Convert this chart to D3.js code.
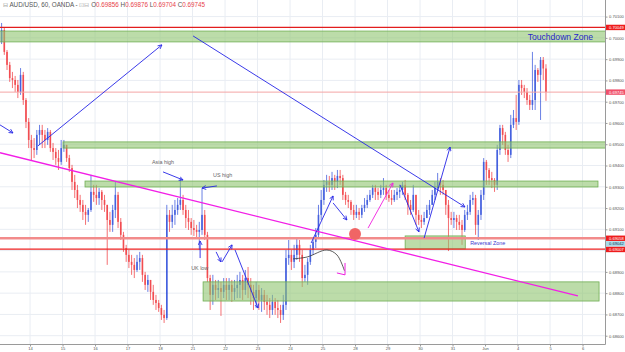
<!DOCTYPE html>
<html>
<head>
<meta charset="utf-8">
<script src="https://cdn.jsdelivr.net/npm/d3@7.9.0/dist/d3.min.js"></script>
<style>
  body { margin: 0; background: #fff; }
  svg { display: block; font-family: "Liberation Sans", Arial, sans-serif; }
</style>
</head>
<body>
<svg id="chart" width="625" height="352"></svg>
<script>
// AUD/USD 2h-ish candles (bar 0 = late May 11)
const firstOpen = 0.69981;
const closes = [
  0.70037,0.69934,0.69873,0.69811,0.69802,0.69779,0.69746,0.69826,0.69708,0.69605,0.69520,
  0.69482,0.69473,0.69544,0.69567,0.69544,0.69520,0.69558,0.69482,0.69464,0.69435,0.69417,0.69482,
  0.69497,0.69435,0.69388,0.69323,0.69285,0.69238,0.69215,0.69182,0.69168,0.69191,0.69276,0.69262,
  0.69247,0.69276,0.69238,0.69215,0.69144,0.69121,0.69191,0.69262,0.69135,0.69074,0.69012,0.68980,
  0.68947,0.68933,0.68909,0.68947,0.68965,0.68886,0.68839,0.68862,0.68806,0.68768,0.68754,0.68730,
  0.68698,0.68683,0.69168,0.69135,0.69168,0.69191,0.69215,0.69238,0.69191,0.69153,0.69135,0.69106,
  0.69097,0.69088,0.69097,0.69168,0.69074,0.68871,0.68792,0.68839,0.68815,0.68824,0.68806,0.68839,
  0.68815,0.68839,0.68806,0.68824,0.68839,0.68862,0.68815,0.68871,0.68839,0.68806,0.68777,0.68815,
  0.68768,0.68792,0.68759,0.68745,0.68721,0.68759,0.68730,0.68721,0.68698,0.68745,0.68965,0.68980,
  0.68947,0.68980,0.69027,0.68980,0.68871,0.68886,0.68947,0.69003,0.69041,0.69074,0.69168,0.69238,
  0.69309,0.69323,0.69309,0.69341,0.69323,0.69351,0.69341,0.69262,0.69238,0.69229,0.69191,0.69168,
  0.69182,0.69168,0.69200,0.69215,0.69238,0.69262,0.69294,0.69276,0.69262,0.69285,0.69294,0.69262,
  0.69247,0.69238,0.69262,0.69276,0.69285,0.69309,0.69262,0.69215,0.69191,0.69262,0.69168,0.69144,
  0.69135,0.69153,0.69191,0.69215,0.69262,0.69294,0.69323,0.69309,0.69285,0.69215,0.69153,0.69144,
  0.69153,0.69135,0.69121,0.69097,0.69168,0.69182,0.69238,0.69247,0.69121,0.69168,0.69262,0.69417,
  0.69379,0.69341,0.69332,0.69309,0.69473,0.69576,0.69544,0.69473,0.69450,0.69591,0.69623,0.69605,
  0.69779,0.69764,0.69746,0.69708,0.69685,0.69708,0.69849,0.69826,0.69896,0.69856,0.69745
];
const highs = [
  0.70070,0.70051,0.69943,0.69887,0.69840,0.69821,0.69802,0.69858,0.69840,0.69717,0.69623,
  0.69544,0.69529,0.69567,0.69591,0.69591,0.69567,0.69576,0.69567,0.69506,0.69482,0.69473,0.69520,
  0.69520,0.69497,0.69450,0.69403,0.69356,0.69309,0.69262,0.69238,0.69215,0.69200,0.69356,0.69309,
  0.69309,0.69294,0.69285,0.69262,0.69215,0.69182,0.69215,0.69323,0.69276,0.69153,0.69088,0.69027,
  0.69003,0.68980,0.68965,0.68980,0.68994,0.68980,0.68900,0.68886,0.68862,0.68839,0.68792,0.68768,
  0.68745,0.68721,0.69215,0.69191,0.69215,0.69238,0.69247,0.69341,0.69262,0.69215,0.69191,0.69153,
  0.69144,0.69121,0.69135,0.69294,0.69191,0.69088,0.68886,0.68886,0.68862,0.68862,0.68853,0.68871,
  0.68871,0.68871,0.68862,0.68862,0.68886,0.68900,0.68886,0.68909,0.68923,0.68871,0.68839,0.68853,
  0.68839,0.68824,0.68815,0.68792,0.68777,0.68792,0.68777,0.68768,0.68745,0.68792,0.69003,0.69050,
  0.69003,0.69027,0.69059,0.69050,0.69003,0.68933,0.68965,0.69027,0.69059,0.69106,0.69215,0.69285,
  0.69332,0.69356,0.69351,0.69370,0.69356,0.69379,0.69379,0.69356,0.69276,0.69262,0.69238,0.69215,
  0.69215,0.69200,0.69215,0.69247,0.69262,0.69285,0.69309,0.69309,0.69294,0.69309,0.69341,0.69309,
  0.69285,0.69285,0.69285,0.69294,0.69309,0.69323,0.69332,0.69271,0.69238,0.69309,0.69262,0.69191,
  0.69168,0.69182,0.69215,0.69238,0.69285,0.69323,0.69365,0.69341,0.69332,0.69285,0.69238,0.69182,
  0.69182,0.69168,0.69168,0.69144,0.69191,0.69215,0.69262,0.69276,0.69262,0.69191,0.69285,0.69435,
  0.69426,0.69388,0.69370,0.69341,0.69497,0.69591,0.69591,0.69558,0.69497,0.69638,0.69661,0.69732,
  0.69802,0.69802,0.69779,0.69764,0.69732,0.69934,0.69873,0.69858,0.69910,0.69910,0.69876
];
const lows = [
  0.69971,0.69920,0.69849,0.69793,0.69764,0.69746,0.69717,0.69732,0.69685,0.69576,0.69482,
  0.69426,0.69435,0.69450,0.69497,0.69482,0.69482,0.69497,0.69464,0.69426,0.69403,0.69379,0.69403,
  0.69464,0.69417,0.69370,0.69285,0.69247,0.69200,0.69182,0.69144,0.69121,0.69135,0.69182,0.69229,
  0.69215,0.69215,0.69191,0.69182,0.68933,0.69088,0.69088,0.69153,0.69106,0.69050,0.68994,0.68947,
  0.68918,0.68886,0.68871,0.68900,0.68909,0.68853,0.68815,0.68806,0.68768,0.68745,0.68721,0.68712,
  0.68674,0.68660,0.68674,0.69088,0.69106,0.69121,0.69168,0.69191,0.69168,0.69106,0.69097,0.69074,
  0.69069,0.69059,0.69003,0.69074,0.69050,0.68853,0.68721,0.68745,0.68768,0.68777,0.68693,0.68777,
  0.68768,0.68768,0.68759,0.68768,0.68777,0.68777,0.68768,0.68792,0.68777,0.68745,0.68721,0.68730,
  0.68721,0.68712,0.68721,0.68698,0.68683,0.68698,0.68698,0.68683,0.68660,0.68674,0.68721,0.68933,
  0.68909,0.68918,0.68956,0.68947,0.68829,0.68853,0.68839,0.68933,0.68980,0.69012,0.69059,0.69144,
  0.69215,0.69276,0.69276,0.69285,0.69285,0.69294,0.69309,0.69238,0.69215,0.69200,0.69168,0.69144,
  0.69153,0.69144,0.69153,0.69182,0.69200,0.69229,0.69247,0.69238,0.69238,0.69247,0.69262,0.69238,
  0.69229,0.69215,0.69229,0.69238,0.69247,0.69262,0.69238,0.69168,0.69168,0.69182,0.69121,0.69121,
  0.69106,0.69121,0.69153,0.69168,0.69215,0.69238,0.69285,0.69262,0.69262,0.69168,0.68998,0.69121,
  0.69106,0.69097,0.69097,0.69027,0.69088,0.69144,0.69168,0.69215,0.69074,0.69050,0.69144,0.69238,
  0.69309,0.69309,0.69294,0.69276,0.69285,0.69450,0.69497,0.69450,0.69417,0.69435,0.69576,0.69567,
  0.69591,0.69732,0.69717,0.69685,0.69661,0.69661,0.69661,0.69793,0.69614,0.69802,0.69704
];

const dayLabels = ["14","15","16","17","18","21","22","23","24","25","28","29","30","31","Jun","4","5","6"];
const priceTicks = [0.686,0.687,0.688,0.689,0.690,0.691,0.692,0.693,0.694,0.695,0.696,0.697,0.698,0.699,0.700,0.701];

// horizontal levels drawn on the chart
const levelPrices = [0.70049, 0.69745, 0.69058, 0.69007];
const levelColors = ["#e21d1d", "#f4a6a6", "#f28b8b", "#ee2222"];
const levelWidths = [1.2, 1, 2.6, 1.3];

// price tags on the right scale
const tagPrices = [0.70049, 0.69745, 0.69058, 0.69042, 0.69007];
const tagColors = ["#ee1c1c", "#f0506a", "#ee1c1c", "#a9dbe8", "#ee1c1c"];
const tagText = ["#fff", "#fff", "#fff", "#235", "#fff"];

// rectangles: [fromBar, toBar, topPrice, bottomPrice]
const zoneTouchdown = [-1, 223, 0.70032, 0.69981];
const zoneUpper = [22.7, 223, 0.69511, 0.69482];
const zoneMiddle = [30.8, 220.2, 0.69327, 0.69299];
const zoneReversal = [149, 171.2, 0.69069, 0.69008];
const zoneLower = [74.4, 220.6, 0.68853, 0.68763];

// drawn lines: lists of [bar, price]
const trendMagenta = [[-0.6, 0.69460], [212.8, 0.68787]];
const blueArrows = [
  [[-0.6, 0.69591], [4.2, 0.69553]],
  [[13.4, 0.69492], [59.2, 0.69967]],
  [[70.7, 0.70009], [171.1, 0.69205]],
  [[59.6, 0.69370], [67.0, 0.69332]],
  [[79.5, 0.69304], [74.0, 0.69294]],
  [[73.3, 0.68965], [73.3, 0.69045]],
  [[79.2, 0.68994], [81.0, 0.68947]],
  [[81.4, 0.68947], [85.1, 0.69027]],
  [[86.2, 0.69003], [94.7, 0.68730]],
  [[114.3, 0.69036], [122.4, 0.69257]],
  [[122.4, 0.69224], [127.5, 0.69144]],
  [[147.1, 0.69309], [154.1, 0.69088]],
  [[156.0, 0.69059], [165.6, 0.69487]]
];
const magentaArrow = [[135.3, 0.69106], [144.5, 0.69318]];
const blackCurve = [[107.6, 0.68961], [112.8, 0.68970], [120.1, 0.69003], [123.8, 0.68980], [126.6, 0.68905]];
const magentaHook = [[126.8, 0.68942], [126.8, 0.68886], [123.8, 0.68895]];
const redDot = [130.5, 0.69078];

const notes = [
  { text: "Asia high", bar: 55.5, price: 0.69407, color: "#666", size: 5.4, anchor: "start" },
  { text: "US high", bar: 78.1, price: 0.69346, color: "#666", size: 5.4, anchor: "start" },
  { text: "UK low", bar: 70.0, price: 0.68909, color: "#666", size: 5.4, anchor: "start" },
  { text: "Reversal Zone", bar: 173.0, price: 0.69027, color: "#3b3bd0", size: 5.4, anchor: "start" },
  { text: "Touchdown Zone", bar: 218.4, price: 0.69990, color: "#2727c8", size: 8.6, anchor: "end" }
];

const plotRight = 605, plotBottom = 344;
const upColor = "#1d3fd8", downColor = "#f0262b";

const svg = d3.select("#chart");
const x = d3.scaleLinear().domain([0, 12]).range([1.6, 1.6 + 32.5]);
const y = d3.scaleLinear().domain([0.68561, 0.70178]).range([plotBottom, 0]);

svg.append("defs").append("clipPath").attr("id", "plot")
  .append("rect").attr("width", plotRight).attr("height", plotBottom);

function marker(id, color) {
  svg.select("defs").append("marker")
    .attr("id", id).attr("viewBox", "0 0 10 10")
    .attr("refX", 9).attr("refY", 5)
    .attr("markerWidth", 5).attr("markerHeight", 5)
    .attr("markerUnits", "userSpaceOnUse").attr("orient", "auto")
    .append("path").attr("d", "M1,1 L9,5 L1,9")
    .attr("fill", "none").attr("stroke", color).attr("stroke-width", 1.6);
}
marker("headBlue", "#2525e6");
marker("headPink", "#f01ee0");

// grid
const grid = svg.append("g");
const dayStarts = dayLabels.map((d, i) => 10.5 + 12 * i);
grid.selectAll("line.v").data(dayStarts).join("line")
  .attr("x1", d => x(d)).attr("x2", d => x(d))
  .attr("y1", 0).attr("y2", plotBottom)
  .attr("stroke", "#e9edf3").attr("stroke-width", 1);
grid.selectAll("line.h").data(priceTicks).join("line")
  .attr("x1", 0).attr("x2", plotRight)
  .attr("y1", d => y(d)).attr("y2", d => y(d))
  .attr("stroke", "#e9edf3").attr("stroke-width", 1);

const plot = svg.append("g").attr("clip-path", "url(#plot)");

// candles
const bars = closes.map((c, i) => {
  const o = i === 0 ? firstOpen : closes[i - 1];
  return { i, o, c, h: Math.max(highs[i], o, c), l: Math.min(lows[i], o, c) };
});
const candles = plot.append("g").selectAll("g").data(bars).join("g")
  .attr("opacity", 0.82);
candles.append("line")
  .attr("x1", d => x(d.i)).attr("x2", d => x(d.i))
  .attr("y1", d => y(d.h)).attr("y2", d => y(d.l))
  .attr("stroke", d => d.c >= d.o ? upColor : downColor)
  .attr("stroke-width", 0.8);
candles.append("rect")
  .attr("x", d => x(d.i) - 0.8).attr("width", 1.6)
  .attr("y", d => y(Math.max(d.o, d.c)))
  .attr("height", d => Math.max(0.8, Math.abs(y(d.o) - y(d.c))))
  .attr("fill", d => d.c >= d.o ? upColor : downColor);

// zones
const zones = [zoneTouchdown, zoneUpper, zoneMiddle, zoneReversal, zoneLower];
plot.append("g").selectAll("rect").data(zones).join("rect")
  .attr("x", d => x(d[0])).attr("width", d => x(d[1]) - x(d[0]))
  .attr("y", d => y(d[2])).attr("height", d => y(d[3]) - y(d[2]))
  .attr("fill", "#8fc46f").attr("fill-opacity", 0.6)
  .attr("stroke", "#6fae52").attr("stroke-width", 0.8);

// levels
plot.append("g").selectAll("line").data(levelPrices).join("line")
  .attr("x1", 0).attr("x2", plotRight)
  .attr("y1", d => y(d)).attr("y2", d => y(d))
  .attr("stroke", (d, i) => levelColors[i])
  .attr("stroke-width", (d, i) => levelWidths[i]);

const line = d3.line().x(d => x(d[0])).y(d => y(d[1]));

plot.append("path").attr("d", line(trendMagenta))
  .attr("fill", "none").attr("stroke", "#f21ee6").attr("stroke-width", 1.3);

plot.append("g").selectAll("path").data(blueArrows).join("path")
  .attr("d", line).attr("fill", "none")
  .attr("stroke", "#2525e6").attr("stroke-width", 0.9)
  .attr("marker-end", "url(#headBlue)");

plot.append("path").attr("d", line(magentaArrow))
  .attr("fill", "none").attr("stroke", "#f01ee0").attr("stroke-width", 0.9)
  .attr("marker-end", "url(#headPink)");

plot.append("path").attr("d", line.curve(d3.curveCatmullRom)(blackCurve))
  .attr("fill", "none").attr("stroke", "#333").attr("stroke-width", 0.8);
line.curve(d3.curveLinear);
plot.append("path").attr("d", line(magentaHook))
  .attr("fill", "none").attr("stroke", "#f01ee0").attr("stroke-width", 1);

plot.append("circle")
  .attr("cx", x(redDot[0])).attr("cy", y(redDot[1])).attr("r", 6)
  .attr("fill", "#f06565");

plot.append("g").selectAll("text").data(notes).join("text")
  .attr("x", d => x(d.bar)).attr("y", d => y(d.price))
  .attr("text-anchor", d => d.anchor)
  .attr("font-size", d => d.size).attr("fill", d => d.color)
  .text(d => d.text);

// axes
svg.append("line").attr("x1", plotRight + 0.5).attr("x2", plotRight + 0.5)
  .attr("y1", 0).attr("y2", plotBottom + 0.5).attr("stroke", "#9a9a9a");
svg.append("line").attr("x1", 0).attr("x2", plotRight + 0.5)
  .attr("y1", plotBottom + 0.5).attr("y2", plotBottom + 0.5).attr("stroke", "#9a9a9a");

const hidden = tagPrices.map(p => y(p));
const yAxis = svg.append("g").attr("transform", `translate(${plotRight + 0.5},0)`)
  .call(d3.axisRight(y).tickValues(priceTicks.filter(t => hidden.every(h => Math.abs(y(t) - h) > 5)))
    .tickFormat(d3.format(".5f")).tickSize(2).tickPadding(1.5));
yAxis.select(".domain").remove();
yAxis.selectAll("line").attr("stroke", "#9a9a9a");
yAxis.selectAll("text").attr("font-size", 4.1).attr("fill", "#555")
  .attr("font-family", "Liberation Sans, Arial, sans-serif");

const xAxis = svg.append("g").attr("transform", `translate(0,${plotBottom + 0.5})`)
  .call(d3.axisBottom(x).tickValues(dayStarts).tickFormat((d, i) => dayLabels[i])
    .tickSize(2).tickPadding(1));
xAxis.select(".domain").remove();
xAxis.selectAll("line").attr("stroke", "#9a9a9a");
xAxis.selectAll("text").attr("font-size", 4.1).attr("fill", "#555")
  .attr("font-family", "Liberation Sans, Arial, sans-serif");

// price tags, nudged apart so they do not overlap
const tags = tagPrices.map((p, i) => ({ p, i, ty: y(p) }));
for (let k = 1; k < tags.length; k++) {
  if (tags[k].ty - tags[k - 1].ty < 5.6) tags[k].ty = tags[k - 1].ty + 5.6;
}
const tagG = svg.append("g").selectAll("g").data(tags).join("g")
  .attr("transform", d => `translate(${plotRight + 1},${d.ty})`);
tagG.append("rect").attr("x", 0).attr("y", -2.7).attr("width", 19).attr("height", 5.4)
  .attr("fill", d => tagColors[d.i]);
tagG.append("text").attr("x", 3).attr("y", 1.5)
  .attr("font-size", 4.1).attr("fill", d => tagText[d.i])
  .text(d => d3.format(".5f")(d.p));

// legend line at the top
const last = bars[bars.length - 1];
const title = svg.append("text").attr("x", 3).attr("y", 7).attr("font-size", 6.3).attr("fill", "#555");
title.append("tspan").attr("fill", "#999").text("⊟ ");
title.append("tspan").text("AUD/USD, 60, OANDA - ");
title.append("tspan").attr("fill", "#aaa").text("⊡⊟ ");
[["O", last.o], ["H", last.h], ["L", last.l], ["C", last.c]].forEach(([k, v]) => {
  title.append("tspan").attr("fill", "#555").text(k);
  title.append("tspan").attr("fill", "#e8434a").text(d3.format(".5f")(v) + " ");
});
</script>
</body>
</html>
